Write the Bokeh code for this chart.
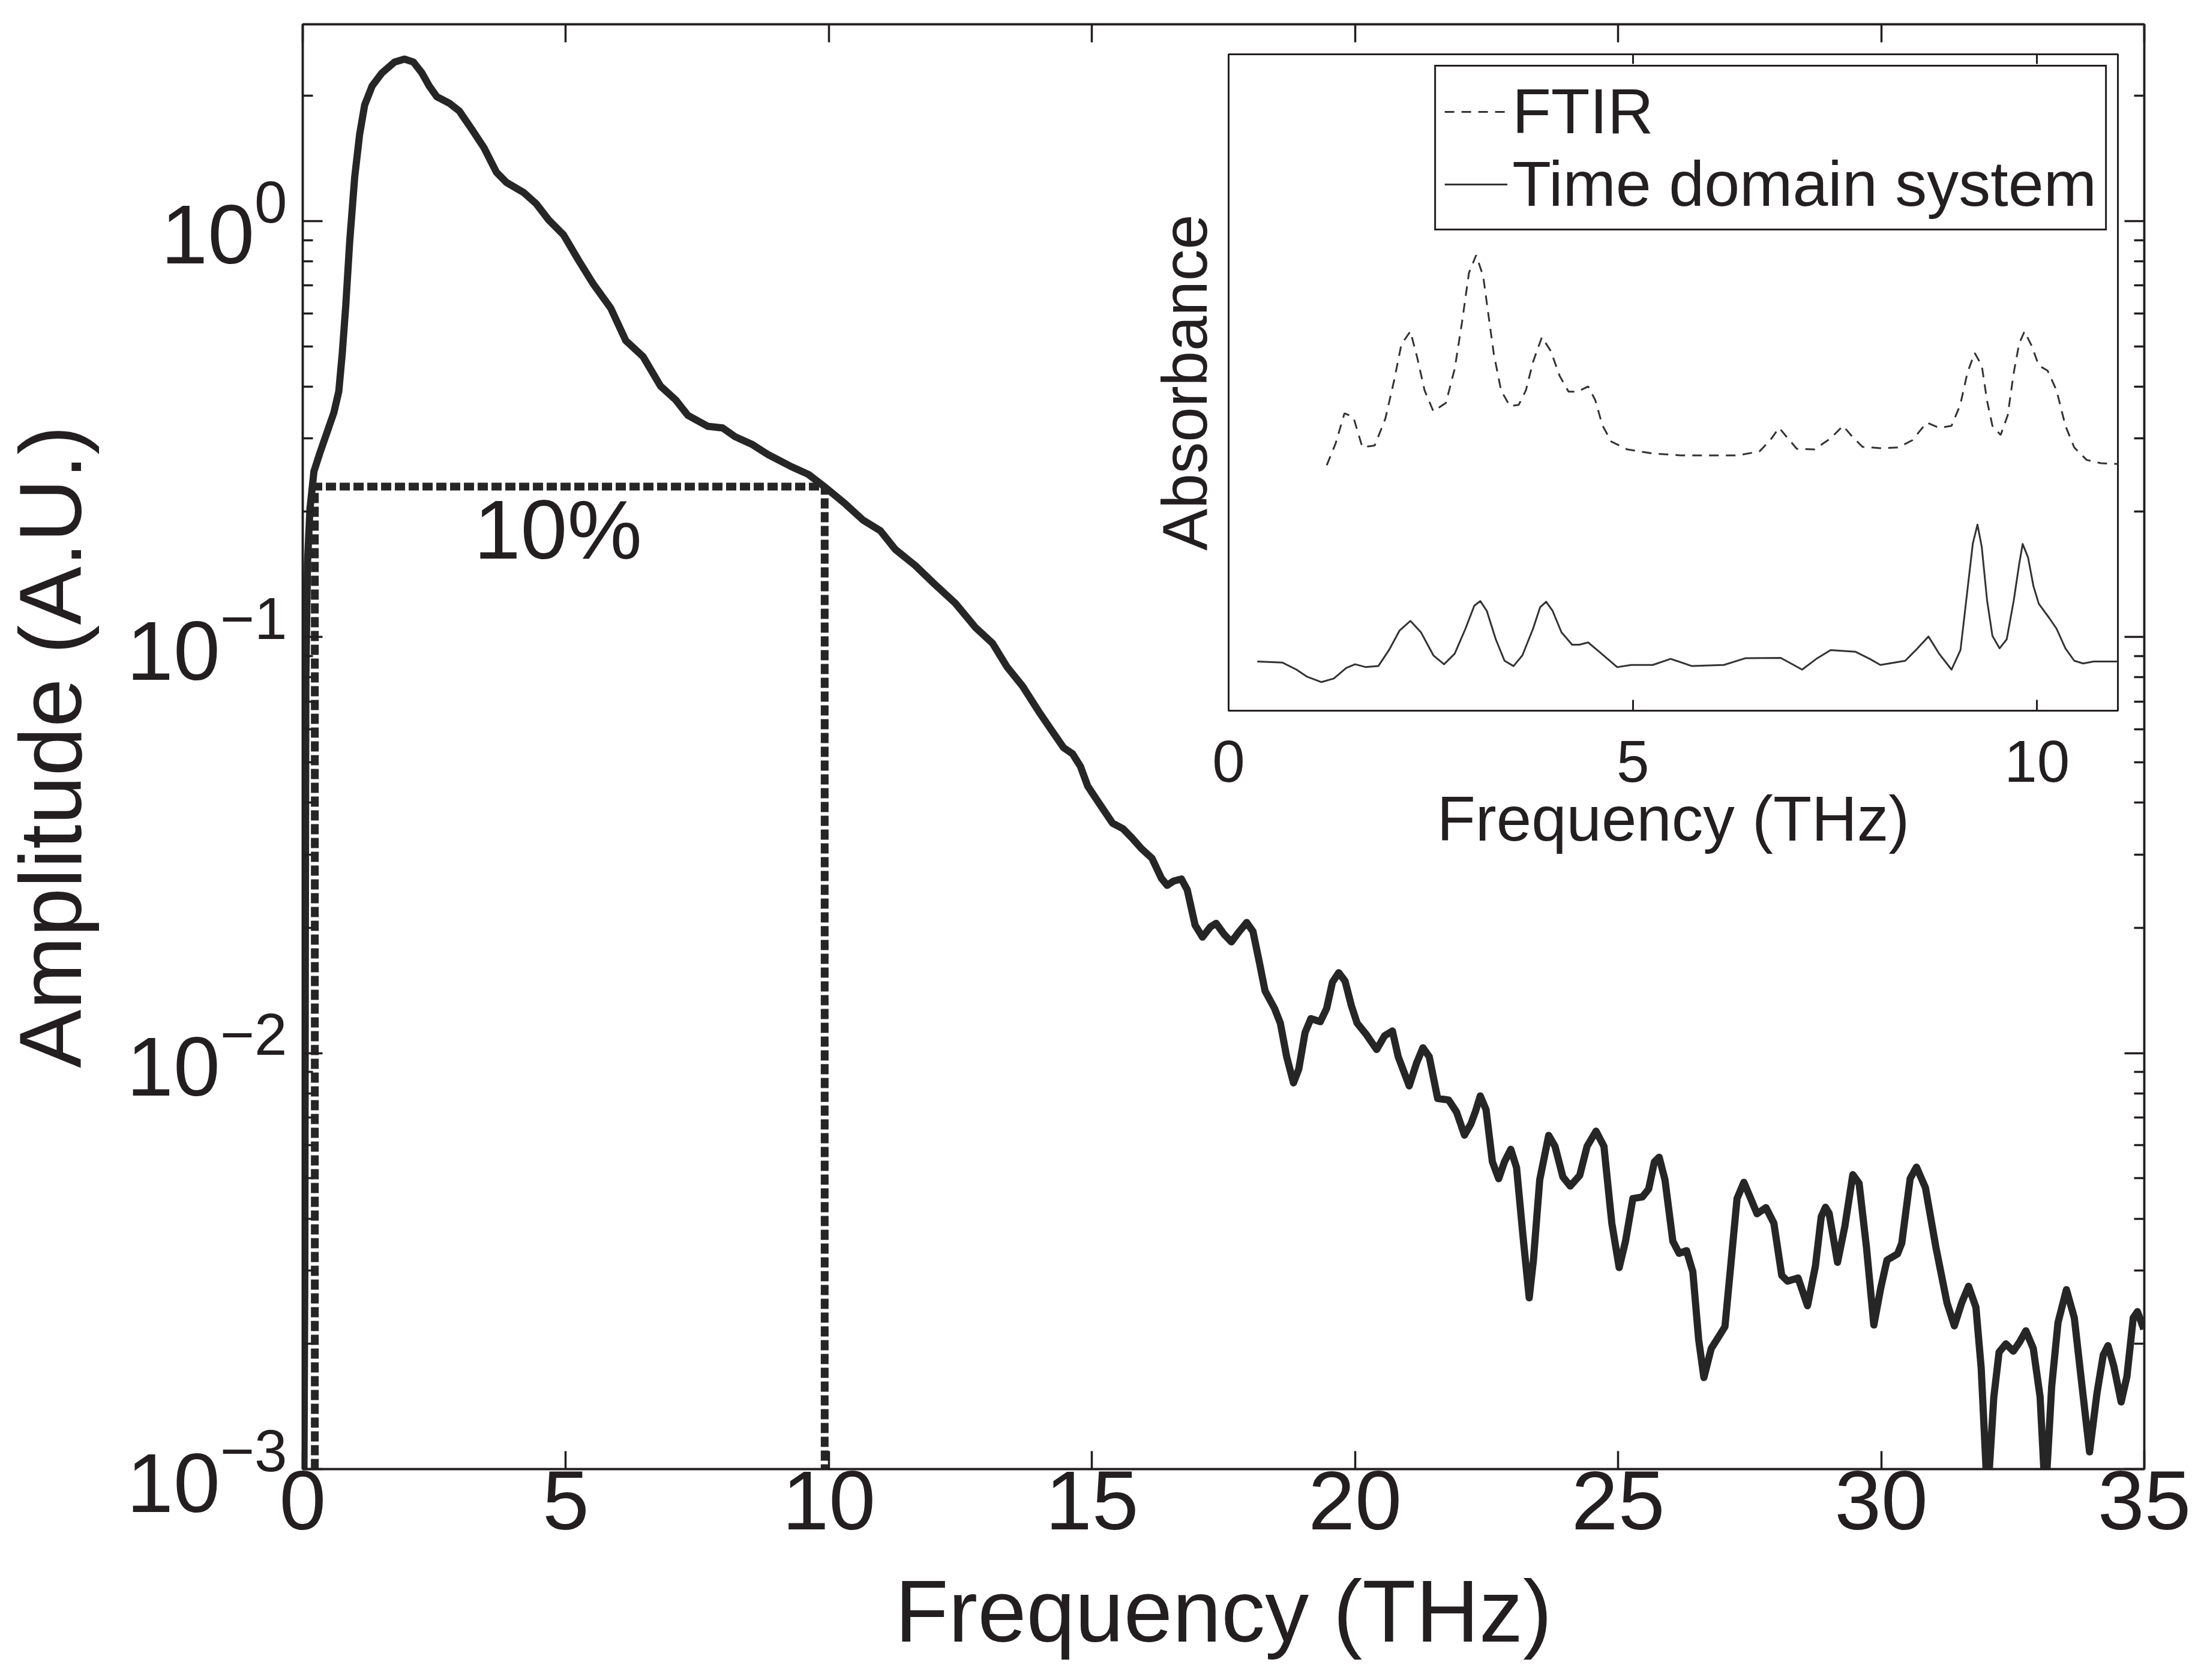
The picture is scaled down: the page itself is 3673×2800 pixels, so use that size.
from bokeh.plotting import figure
from bokeh.models import Range1d, FixedTicker, LinearAxis, LogAxis, GridBox
from bokeh.core.properties import value
from bokeh.embed import file_html
from bokeh.resources import INLINE

# ---------------- data ----------------
freq = [0.02, 0.04, 0.05, 0.06, 0.09, 0.137, 0.213, 0.326, 0.468, 0.591, 0.685, 0.751, 0.818, 0.893,
        0.988, 1.082, 1.177, 1.318, 1.507, 1.744, 1.933, 2.103, 2.264, 2.405, 2.547, 2.783, 2.973,
        3.209, 3.445, 3.681, 3.871, 4.201, 4.438, 4.674, 4.957, 5.241, 5.524, 5.855, 6.139, 6.469,
        6.800, 7.084, 7.320, 7.698, 7.982, 8.218, 8.549, 8.833, 9.28, 9.61, 9.94, 10.31, 10.65,
        10.98, 11.26, 11.64, 12.01, 12.40, 12.78, 13.11, 13.39, 13.68, 14.01, 14.22, 14.46, 14.63,
        14.78, 14.92, 15.15, 15.39, 15.59, 15.76, 15.94, 16.14, 16.32, 16.43, 16.55, 16.70, 16.81,
        16.96, 17.10, 17.25, 17.36, 17.51, 17.65, 17.80, 17.94, 18.06, 18.18, 18.29, 18.47, 18.58,
        18.70, 18.83, 18.93, 19.05, 19.16, 19.34, 19.46, 19.57, 19.69, 19.81, 19.93, 20.04, 20.21,
        20.41, 20.56, 20.71, 20.82, 21.03, 21.17, 21.29, 21.41, 21.57, 21.78, 21.93, 22.08, 22.20,
        22.29, 22.38, 22.49, 22.61, 22.73, 22.84, 22.96, 23.07, 23.19, 23.31, 23.39, 23.51, 23.68,
        23.80, 23.95, 24.09, 24.27, 24.41, 24.58, 24.73, 24.88, 25.02, 25.14, 25.28, 25.46, 25.58,
        25.69, 25.78, 25.89, 26.04, 26.16, 26.30, 26.42, 26.53, 26.63, 26.77, 26.88, 27.03, 27.15,
        27.26, 27.39, 27.52, 27.64, 27.81, 27.96, 28.11, 28.22, 28.42, 28.60, 28.75, 28.86, 28.94,
        29.01, 29.17, 29.31, 29.46, 29.58, 29.72, 29.86, 29.99, 30.11, 30.31, 30.39, 30.55, 30.67,
        30.84, 31.04, 31.25, 31.39, 31.53, 31.66, 31.80, 31.90, 32.02, 32.14, 32.24, 32.37, 32.51,
        32.63, 32.75, 32.89, 33.02, 33.12, 33.24, 33.36, 33.52, 33.67, 33.81, 33.96, 34.10, 34.22,
        34.31, 34.42, 34.56, 34.67, 34.79, 34.87, 34.99]
amplitude = [0.0008, 0.003, 0.02, 0.08, 0.15, 0.203, 0.250, 0.277, 0.312, 0.346, 0.389, 0.480, 0.626,
             0.894, 1.276, 1.618, 1.90, 2.11, 2.27, 2.41, 2.45, 2.41, 2.27, 2.11, 1.99, 1.92, 1.84,
             1.665, 1.50, 1.31, 1.238, 1.17, 1.10, 1.006, 0.926, 0.805, 0.705, 0.617, 0.516, 0.472,
             0.401, 0.372, 0.341, 0.321, 0.318, 0.303, 0.290, 0.275, 0.257, 0.246, 0.2285, 0.209,
             0.191, 0.180, 0.1625, 0.1486, 0.134, 0.1207, 0.1056, 0.0966, 0.0846, 0.0762, 0.0656,
             0.0600, 0.0542, 0.0524, 0.0489, 0.0438, 0.0396, 0.0357, 0.0346, 0.0329, 0.0310, 0.0294,
             0.0263, 0.0253, 0.0259, 0.0262, 0.0247, 0.0203, 0.0190, 0.0201, 0.0205, 0.0193, 0.0185,
             0.0196, 0.0206, 0.0196, 0.01655, 0.0141, 0.0128, 0.0118, 0.0098, 0.00848, 0.00915,
             0.0112, 0.0121, 0.0119, 0.0128, 0.0148, 0.0156, 0.0149, 0.0130, 0.0118, 0.0111, 0.0102,
             0.0110, 0.0113, 0.0098, 0.00834, 0.00947, 0.0103, 0.0098, 0.00778, 0.00771, 0.00721,
             0.00635, 0.00675, 0.00725, 0.00789, 0.00731, 0.00548, 0.00499, 0.00548, 0.00587, 0.0053,
             0.00365, 0.00258, 0.00318, 0.00496, 0.00634, 0.00597, 0.00504, 0.00479, 0.00508,
             0.00597, 0.00649, 0.00597, 0.0039, 0.00305, 0.00353, 0.00447, 0.00451, 0.00471, 0.00548,
             0.00562, 0.00496, 0.00353, 0.0033, 0.00335, 0.00298, 0.00205, 0.00166, 0.00195, 0.00205,
             0.0022, 0.00318, 0.00447, 0.00489, 0.00447, 0.00411, 0.00425, 0.0039, 0.00292, 0.00283,
             0.00288, 0.00247, 0.00308, 0.00404, 0.00426, 0.00412, 0.00314, 0.00384, 0.0051, 0.00486,
             0.00341, 0.00222, 0.00272, 0.00318, 0.00329, 0.00349, 0.00499, 0.00532, 0.00475,
             0.00341, 0.00251, 0.00221, 0.00251, 0.00275, 0.00245, 0.00175, 0.00085, 0.00149,
             0.00191, 0.0020, 0.00192, 0.00202, 0.00215, 0.00195, 0.00149, 0.00085, 0.00158, 0.00225,
             0.0027, 0.00231, 0.00161, 0.0011, 0.00152, 0.00188, 0.00198, 0.00177, 0.00145, 0.00167,
             0.00231, 0.00239, 0.00217]

bw_low = 0.23      # THz, lower 10% crossing
bw_high = 9.92     # THz, upper 10% crossing
ten_pct = 0.23     # 10% of peak amplitude
y_floor = 1e-3

x_ticks = [0, 5, 10, 15, 20, 25, 30, 35]
y_major = [1e-3, 1e-2, 1e-1, 1.0]
y_minor = [m * d for d in [1e-3, 1e-2, 1e-1, 1.0] for m in range(2, 10)]

ftir_x = [1.214, 1.323, 1.433, 1.543, 1.654, 1.807, 1.939, 2.049, 2.137, 2.248, 2.335, 2.424, 2.533,
          2.688, 2.797, 2.886, 2.973, 3.062, 3.149, 3.215, 3.281, 3.370, 3.479, 3.589, 3.677, 3.766,
          3.875, 3.985, 4.095, 4.205, 4.315, 4.447, 4.536, 4.623, 4.733, 4.932, 5.240, 5.591, 5.943,
          6.303, 6.566, 6.699, 6.809, 6.918, 7.028, 7.248, 7.447, 7.600, 7.711, 7.841, 8.062, 8.283,
          8.457, 8.635, 8.788, 8.942, 9.050, 9.139, 9.228, 9.316, 9.382, 9.448, 9.550, 9.637, 9.712,
          9.778, 9.845, 9.933, 10.021, 10.131, 10.241, 10.351, 10.460, 10.614, 10.790, 11.0]
ftir_y = [0.374, 0.407, 0.453, 0.4475, 0.4015, 0.404, 0.445, 0.504, 0.558, 0.578, 0.537, 0.488, 0.456,
          0.469, 0.521, 0.591, 0.667, 0.694, 0.662, 0.602, 0.543, 0.488, 0.464, 0.466, 0.488, 0.5315,
          0.569, 0.548, 0.510, 0.486, 0.486, 0.494, 0.473, 0.435, 0.410, 0.398, 0.392, 0.389, 0.389,
          0.389, 0.395, 0.412, 0.431, 0.415, 0.399, 0.398, 0.415, 0.434, 0.418, 0.402, 0.400, 0.401,
          0.412, 0.439, 0.431, 0.434, 0.466, 0.515, 0.545, 0.526, 0.472, 0.434, 0.420, 0.450, 0.515,
          0.559, 0.578, 0.556, 0.526, 0.518, 0.488, 0.434, 0.401, 0.382, 0.377, 0.376]

tds_x = [0.355, 0.663, 0.839, 0.972, 1.148, 1.301, 1.456, 1.565, 1.697, 1.852, 1.984, 2.115, 2.248,
         2.379, 2.533, 2.665, 2.797, 2.930, 3.039, 3.114, 3.194, 3.304, 3.413, 3.524, 3.634, 3.766,
         3.853, 3.928, 4.008, 4.117, 4.249, 4.338, 4.447, 4.586, 4.806, 4.982, 5.246, 5.467, 5.731,
         6.126, 6.390, 6.830, 7.094, 7.270, 7.447, 7.755, 7.930, 8.062, 8.370, 8.501, 8.657, 8.788,
         8.942, 9.053, 9.140, 9.206, 9.263, 9.316, 9.382, 9.448, 9.536, 9.625, 9.712, 9.778, 9.822,
         9.889, 9.955, 10.021, 10.152, 10.241, 10.351, 10.460, 10.570, 10.701, 11.0]
tds_y = [0.075, 0.0734, 0.0626, 0.0517, 0.0436, 0.049, 0.0653, 0.0707, 0.0664, 0.068, 0.0924, 0.1222,
         0.1368, 0.1195, 0.0843, 0.0707, 0.087, 0.125, 0.160, 0.167, 0.152, 0.109, 0.0761, 0.068,
         0.0843, 0.125, 0.1575, 0.166, 0.152, 0.1195, 0.1005, 0.1005, 0.104, 0.0897, 0.0664, 0.0697,
         0.0697, 0.079, 0.068, 0.0697, 0.0799, 0.0804, 0.0626, 0.079, 0.0924, 0.0897, 0.079, 0.0697,
         0.0761, 0.0924, 0.113, 0.087, 0.0626, 0.0924, 0.185, 0.255, 0.2835, 0.2495, 0.168, 0.114,
         0.095, 0.1088, 0.168, 0.2225, 0.254, 0.2334, 0.190, 0.163, 0.141, 0.125, 0.095, 0.0761,
         0.072, 0.075, 0.075]
inset_x_ticks = [0, 5, 10]

# ---------------- styling ----------------
DARK = "#231f20"
FONT = "Liberation Sans"
W, H = 3673, 2800

p = figure(width=W, height=H, x_range=Range1d(0, 35), y_range=Range1d(1e-3, 2.97),
           y_axis_type="log", output_backend="svg", toolbar_location=None,
           min_border_left=502, min_border_right=100, min_border_top=40, min_border_bottom=352)
p.background_fill_color = "white"
p.border_fill_color = "white"
p.outline_line_color = DARK
p.outline_line_width = 3.5
p.xgrid.visible = False
p.ygrid.visible = False

p.line(freq, amplitude, line_color="#262626", line_width=12, line_join="round")
p.line([bw_low, bw_low, bw_high, bw_high], [y_floor, ten_pct, ten_pct, y_floor],
       line_color="#262626", line_width=13, line_dash="17 6")
p.text(x=[4.85], y=[0.1815], text=["10%"], text_align="center", text_baseline="middle",
       text_font=value(FONT), text_font_size="140px", text_color=DARK)

xa = p.xaxis[0]
xa.ticker = FixedTicker(ticks=x_ticks, minor_ticks=[])
ya = p.yaxis[0]
ya.ticker = FixedTicker(ticks=y_major, minor_ticks=y_minor)
for ax in (xa, ya):
    ax.axis_line_color = DARK
    ax.axis_line_width = 3.5
    ax.major_tick_line_color = DARK
    ax.major_tick_line_width = 3.5
    ax.minor_tick_line_color = DARK
    ax.minor_tick_line_width = 3.5
    ax.major_tick_out = 0
    ax.minor_tick_out = 0
    ax.major_label_text_font = FONT
    ax.major_label_text_font_size = "140px"
    ax.major_label_text_color = DARK
    ax.axis_label_text_font = FONT
    ax.axis_label_text_font_size = "146px"
    ax.axis_label_text_font_style = "normal"
    ax.axis_label_text_color = DARK
xa.major_tick_in = 30
xa.major_label_standoff = 4
xa.axis_label = "Frequency (THz)"
xa.axis_label_standoff = 52
ya.major_tick_in = 33
ya.minor_tick_in = 17
ya.major_label_standoff = 26
ya.axis_label = "Amplitude (A.U.)"
ya.axis_label_standoff = 42


def mirror(ax_cls, ticker, tick_in, minor_in, lw):
    return ax_cls(ticker=ticker, major_label_text_font_size="1px", major_label_text_color=None,
                  major_tick_in=tick_in, major_tick_out=0, minor_tick_in=minor_in, minor_tick_out=0,
                  major_label_standoff=0, axis_line_color=DARK, axis_line_width=lw,
                  major_tick_line_color=DARK, major_tick_line_width=lw,
                  minor_tick_line_color=DARK, minor_tick_line_width=lw)


p.add_layout(mirror(LinearAxis, FixedTicker(ticks=x_ticks, minor_ticks=[]), 30, 0, 3.5), "above")
p.add_layout(mirror(LogAxis, FixedTicker(ticks=y_major, minor_ticks=y_minor), 33, 17, 3.5), "right")

# ---------------- inset ----------------
IX, IY = 1895, 78
IW, IH = 1642, 1406
q = figure(width=IW, height=IH, x_range=Range1d(0, 11), y_range=Range1d(0, 1),
           output_backend="svg", toolbar_location=None,
           min_border_left=152, min_border_right=8, min_border_top=12, min_border_bottom=300)
q.background_fill_color = "white"
q.border_fill_color = None
q.outline_line_color = DARK
q.outline_line_width = 3
q.xgrid.visible = False
q.ygrid.visible = False

q.line(ftir_x, ftir_y, line_color="#333333", line_width=3, line_dash="16 12", legend_label="FTIR")
q.line(tds_x, tds_y, line_color="#333333", line_width=3, line_join="round",
       legend_label="Time domain system")

qx = q.xaxis[0]
qx.ticker = FixedTicker(ticks=inset_x_ticks, minor_ticks=[])
qx.major_tick_in = 18
qx.major_tick_out = 0
qx.major_label_standoff = 50
qx.axis_label = "Frequency (THz)"
qx.axis_label_standoff = 0
qy = q.yaxis[0]
qy.ticker = FixedTicker(ticks=[0.5], minor_ticks=[])
qy.major_tick_in = 0
qy.major_tick_out = 0
qy.major_label_standoff = 0
qy.axis_label = "Absorbance"
qy.axis_label_standoff = 15
for ax in (qx, qy):
    ax.axis_line_color = DARK
    ax.axis_line_width = 3
    ax.major_tick_line_color = DARK
    ax.major_tick_line_width = 3
    ax.major_label_text_font = FONT
    ax.major_label_text_font_size = "98px"
    ax.major_label_text_color = DARK
    ax.axis_label_text_font = FONT
    ax.axis_label_text_font_size = "105px"
    ax.axis_label_text_font_style = "normal"
    ax.axis_label_text_color = DARK
qy.major_label_text_font_size = "1px"
qy.major_label_text_color = None
q.add_layout(mirror(LinearAxis, FixedTicker(ticks=inset_x_ticks, minor_ticks=[]), 16, 0, 3), "above")

lg = q.legend[0]
lg.location = "top_right"
lg.margin = 18
lg.padding = 14
lg.spacing = 0
lg.border_line_color = DARK
lg.border_line_width = 3
lg.border_line_alpha = 1
lg.background_fill_color = "white"
lg.background_fill_alpha = 1
lg.label_text_font = FONT
lg.label_text_font_size = "106px"
lg.label_text_color = DARK
lg.glyph_width = 105
lg.glyph_height = 110
lg.label_height = 110
lg.label_standoff = 8

grid = GridBox(children=[(p, 0, 0, 3, 3), (q, 1, 1, 1, 1)],
               rows=["%dpx" % IY, "%dpx" % IH, "%dpx" % (H - IY - IH)],
               cols=["%dpx" % IX, "%dpx" % IW, "%dpx" % (W - IX - IW)])

open("out.html", "w").write(file_html(grid, INLINE))
